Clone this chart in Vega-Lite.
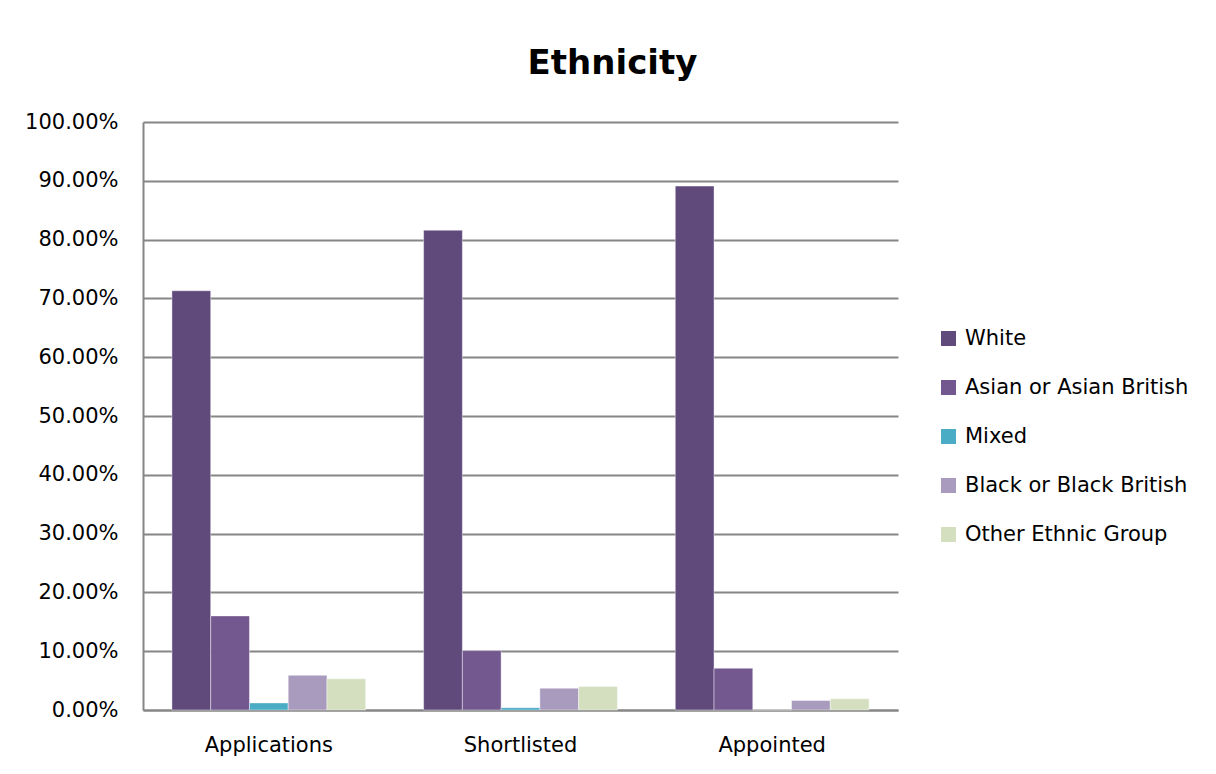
{
  "$schema": "https://vega.github.io/schema/vega-lite/v6.json",
  "width": 755,
  "height": 588,
  "autosize": "none",
  "padding": {"left": 143, "top": 122, "right": 318, "bottom": 64},
  "background": "white",
  "title": {
    "text": "Ethnicity",
    "fontSize": 34,
    "fontWeight": "bold",
    "font": "DejaVu Sans",
    "color": "#000000",
    "anchor": "middle",
    "dx": 92,
    "offset": 30
  },
  "data": {
    "values": [
      {"stage": "Applications", "group": "White", "value": 0.713},
      {"stage": "Applications", "group": "Asian or Asian British", "value": 0.160},
      {"stage": "Applications", "group": "Mixed", "value": 0.012},
      {"stage": "Applications", "group": "Black or Black British", "value": 0.059},
      {"stage": "Applications", "group": "Other Ethnic Group", "value": 0.053},
      {"stage": "Shortlisted", "group": "White", "value": 0.816},
      {"stage": "Shortlisted", "group": "Asian or Asian British", "value": 0.101},
      {"stage": "Shortlisted", "group": "Mixed", "value": 0.004},
      {"stage": "Shortlisted", "group": "Black or Black British", "value": 0.037},
      {"stage": "Shortlisted", "group": "Other Ethnic Group", "value": 0.040},
      {"stage": "Appointed", "group": "White", "value": 0.891},
      {"stage": "Appointed", "group": "Asian or Asian British", "value": 0.071},
      {"stage": "Appointed", "group": "Mixed", "value": 0.0},
      {"stage": "Appointed", "group": "Black or Black British", "value": 0.016},
      {"stage": "Appointed", "group": "Other Ethnic Group", "value": 0.019}
    ]
  },
  "mark": {"type": "bar", "stroke": "white", "strokeWidth": 0.6, "strokeOpacity": 0.7},
  "encoding": {
    "x": {
      "field": "stage",
      "type": "nominal",
      "sort": ["Applications", "Shortlisted", "Appointed"],
      "scale": {"paddingInner": 0.23, "paddingOuter": 0.115},
      "axis": {
        "title": null,
        "labelAngle": 0,
        "labelFont": "DejaVu Sans",
        "labelFontSize": 21,
        "labelColor": "#000000",
        "labelPadding": 24,
        "ticks": false,
        "domainColor": "#868686",
        "domainWidth": 2
      }
    },
    "xOffset": {
      "field": "group",
      "type": "nominal",
      "sort": ["White", "Asian or Asian British", "Mixed", "Black or Black British", "Other Ethnic Group"],
      "scale": {"paddingInner": 0, "paddingOuter": 0}
    },
    "y": {
      "field": "value",
      "type": "quantitative",
      "scale": {"domain": [0, 1], "nice": false},
      "axis": {
        "title": null,
        "format": ".2%",
        "values": [0, 0.1, 0.2, 0.3, 0.4, 0.5, 0.6, 0.7, 0.8, 0.9, 1],
        "labelFont": "DejaVu Sans",
        "labelFontSize": 21,
        "labelColor": "#000000",
        "labelPadding": 25,
        "ticks": false,
        "domainColor": "#868686",
        "domainWidth": 2,
        "gridColor": "#868686",
        "gridWidth": 2
      }
    },
    "color": {
      "field": "group",
      "type": "nominal",
      "sort": ["White", "Asian or Asian British", "Mixed", "Black or Black British", "Other Ethnic Group"],
      "scale": {
        "domain": ["White", "Asian or Asian British", "Mixed", "Black or Black British", "Other Ethnic Group"],
        "range": ["#604A7B", "#72588F", "#4BACC6", "#A99BBE", "#D3DFBF"]
      },
      "legend": {
        "title": null,
        "orient": "none",
        "legendX": 795,
        "legendY": 206,
        "symbolType": "square",
        "symbolSize": 225,
        "symbolStrokeWidth": 0,
        "labelFont": "DejaVu Sans",
        "labelFontSize": 21,
        "labelColor": "#000000",
        "labelLimit": 400,
        "labelOffset": 6,
        "rowPadding": 27
      }
    }
  },
  "config": {
    "view": {"stroke": null}
  }
}
